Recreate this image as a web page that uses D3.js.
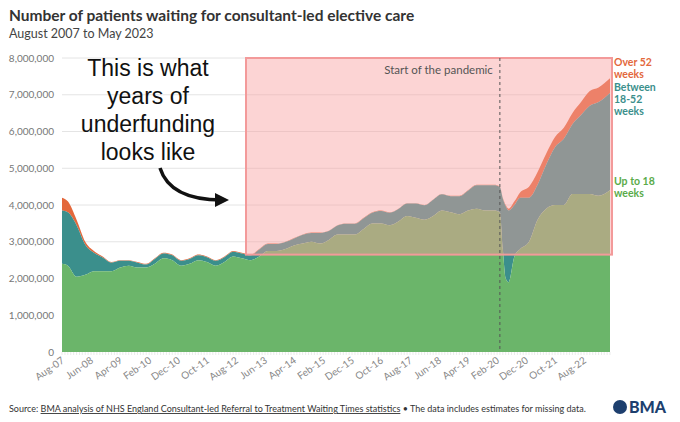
<!DOCTYPE html>
<html><head><meta charset="utf-8">
<script src="https://cdn.jsdelivr.net/npm/d3@7"></script>
<style>body{margin:0;background:#fff;font-family:Lato,sans-serif}</style></head>
<body><svg id="c" width="680" height="422"></svg>
<script>
const dates=["2007-08","2007-10","2008-01","2008-04","2008-07","2008-10","2009-01","2009-04","2009-07","2009-10","2010-01","2010-04","2010-07","2010-10","2011-01","2011-04","2011-07","2011-10","2012-01","2012-04","2012-07","2012-10","2013-01","2013-04","2013-07","2013-10","2014-01","2014-04","2014-07","2014-10","2015-01","2015-04","2015-07","2015-10","2016-01","2016-04","2016-07","2016-10","2017-01","2017-04","2017-07","2017-10","2018-01","2018-04","2018-07","2018-10","2019-01","2019-04","2019-07","2019-10","2020-01","2020-03","2020-04","2020-05","2020-06","2020-08","2020-10","2021-01","2021-04","2021-07","2021-10","2022-01","2022-04","2022-07","2022-10","2023-01","2023-05"];
const total=[4.2,4.1,3.6,3.0,2.75,2.6,2.45,2.5,2.5,2.45,2.4,2.55,2.7,2.65,2.5,2.55,2.65,2.6,2.5,2.6,2.75,2.7,2.65,2.8,2.95,2.95,3.0,3.1,3.2,3.25,3.25,3.3,3.45,3.5,3.5,3.65,3.8,3.85,3.8,3.9,4.05,4.05,4.0,4.15,4.3,4.25,4.25,4.4,4.55,4.55,4.55,4.5,4.2,4.0,3.9,4.1,4.35,4.5,4.9,5.4,5.85,6.1,6.5,6.8,7.1,7.2,7.45];
const upTo18=[2.4,2.35,2.05,2.1,2.2,2.2,2.2,2.3,2.35,2.3,2.3,2.4,2.55,2.5,2.35,2.4,2.5,2.45,2.35,2.45,2.6,2.55,2.5,2.6,2.75,2.75,2.8,2.9,2.95,3.0,2.95,3.05,3.2,3.2,3.2,3.35,3.5,3.5,3.45,3.55,3.7,3.65,3.6,3.7,3.85,3.8,3.75,3.85,3.9,3.85,3.85,3.8,2.8,2.0,1.9,2.6,2.8,3.0,3.6,3.9,4.0,4.0,4.3,4.3,4.3,4.25,4.4];
const over52=[0.35,0.3,0.15,0.08,0.05,0.03,0.02,0.02,0.02,0.02,0.02,0.02,0.02,0.02,0.02,0.02,0.02,0.02,0.02,0.02,0.02,0.02,0.02,0.01,0.01,0.01,0.01,0.01,0.01,0.01,0.01,0.01,0.01,0.01,0.01,0.01,0.01,0.01,0.01,0.01,0.01,0.01,0.01,0.01,0.01,0.01,0.01,0.01,0.01,0.01,0.01,0.01,0.02,0.03,0.05,0.1,0.15,0.3,0.35,0.3,0.28,0.3,0.3,0.35,0.4,0.4,0.4];
const tickLabels=["Aug-07","Jun-08","Apr-09","Feb-10","Dec-10","Oct-11","Aug-12","Jun-13","Apr-14","Feb-15","Dec-15","Oct-16","Aug-17","Jun-18","Apr-19","Feb-20","Dec-20","Oct-21","Aug-22"];
const yTicks=[0,1,2,3,4,5,6,7,8];

const svg=d3.select("#c");
const parse=d3.timeParse("%Y-%m"), parseT=d3.timeParse("%b-%y");
const x=d3.scaleTime().domain([parse("2007-08"),parse("2023-05")]).range([62,610]);
const y=d3.scaleLinear().domain([0,8]).range([352,58]);
const data=dates.map((d,i)=>({d:parse(d),a:upTo18[i],b:total[i]-over52[i],c:total[i]}));

svg.append("text").attr("x",9).attr("y",21).attr("font-size",15.5).attr("font-weight",700).attr("fill","#333").text("Number of patients waiting for consultant-led elective care");
svg.append("text").attr("x",9).attr("y",38).attr("font-size",12.5).attr("fill","#444").text("August 2007 to May 2023");

const g=svg.append("g");
yTicks.forEach(t=>{
 if(t>0) g.append("line").attr("x1",62).attr("x2",610).attr("y1",y(t)).attr("y2",y(t)).attr("stroke","#e4e4e4");
 g.append("text").attr("x",54).attr("y",y(t)+3.5).attr("text-anchor","end").attr("font-size",10).attr("fill","#777").text(d3.format(",")(t*1e6));
});
const area=(lo,hi)=>d3.area().x(d=>x(d.d)).y0(lo).y1(hi).curve(d3.curveMonotoneX);
g.append("path").datum(data).attr("d",area(d=>y(d.b),d=>y(d.c))).attr("fill","#e3683c");
g.append("path").datum(data).attr("d",area(d=>y(d.a),d=>y(d.b))).attr("fill","#3b8f8c");
g.append("path").datum(data).attr("d",area(()=>y(0),d=>y(d.a))).attr("fill","#6bb56a");

tickLabels.forEach(t=>{
 const px=x(parseT(t));
 g.append("text").attr("transform",`translate(${px+3},${362}) rotate(-35)`).attr("text-anchor","end").attr("font-size",10).attr("fill","#888").text(t);
});
d3.range(0,190).forEach(m=>{const px=x(d3.timeMonth.offset(parse("2007-08"),m));g.append("line").attr("x1",px).attr("x2",px).attr("y1",352).attr("y2",355).attr("stroke","#ddd").attr("stroke-width",0.6);});

svg.append("rect").attr("x",246).attr("y",y(8)).attr("width",366).attr("height",y(2.65)-y(8)).attr("fill","#f8a0a0").attr("fill-opacity",0.45).attr("stroke","#f39a9a").attr("stroke-width",2);
const px20=x(parse("2020-03"));
svg.append("line").attr("x1",px20).attr("x2",px20).attr("y1",y(8)).attr("y2",352).attr("stroke","#555").attr("stroke-dasharray","3,3");
svg.append("text").attr("x",px20-7).attr("y",74).attr("text-anchor","end").attr("font-size",11.5).attr("fill","#555").text("Start of the pandemic");

const lg=[[["Over 52","weeks"],"#e3683c",66],[["Between","18-52","weeks"],"#3b8f8c",91],[["Up to 18","weeks"],"#5aab4a",185]];
lg.forEach(l=>{l[0].forEach((s,i)=>svg.append("text").attr("x",614).attr("y",l[2]+i*12).attr("font-size",10.5).attr("font-weight",700).attr("fill",l[1]).text(s));});

["This is what","years of","underfunding","looks like"].forEach((s,i)=>svg.append("text").attr("x",148).attr("y",76+i*28).attr("text-anchor","middle").attr("font-family","Liberation Sans,Arial").attr("font-size",23).attr("fill","#111").text(s));
svg.append("defs").append("marker").attr("id","ah").attr("viewBox","0 0 10 10").attr("refX",5).attr("refY",5).attr("markerWidth",4).attr("markerHeight",4).attr("orient","auto").append("path").attr("d","M0,0L10,5L0,10z").attr("fill","#111");
svg.append("path").attr("d","M160,168 Q170,200 222,200").attr("fill","none").attr("stroke","#111").attr("stroke-width",3.5).attr("marker-end","url(#ah)");

const f=svg.append("text").attr("x",9).attr("y",412).attr("font-size",9).attr("fill","#333");
f.append("tspan").text("Source: ");
f.append("tspan").attr("text-decoration","underline").text("BMA analysis of NHS England Consultant-led Referral to Treatment Waiting Times statistics");
f.append("tspan").text(" • The data includes estimates for missing data.");
svg.append("circle").attr("cx",620).attr("cy",407).attr("r",7).attr("fill","#1d3f6e");
svg.append("text").attr("x",629).attr("y",413).attr("font-size",16).attr("font-weight",900).attr("fill","#1d3f6e").text("BMA");
</script></body></html>
